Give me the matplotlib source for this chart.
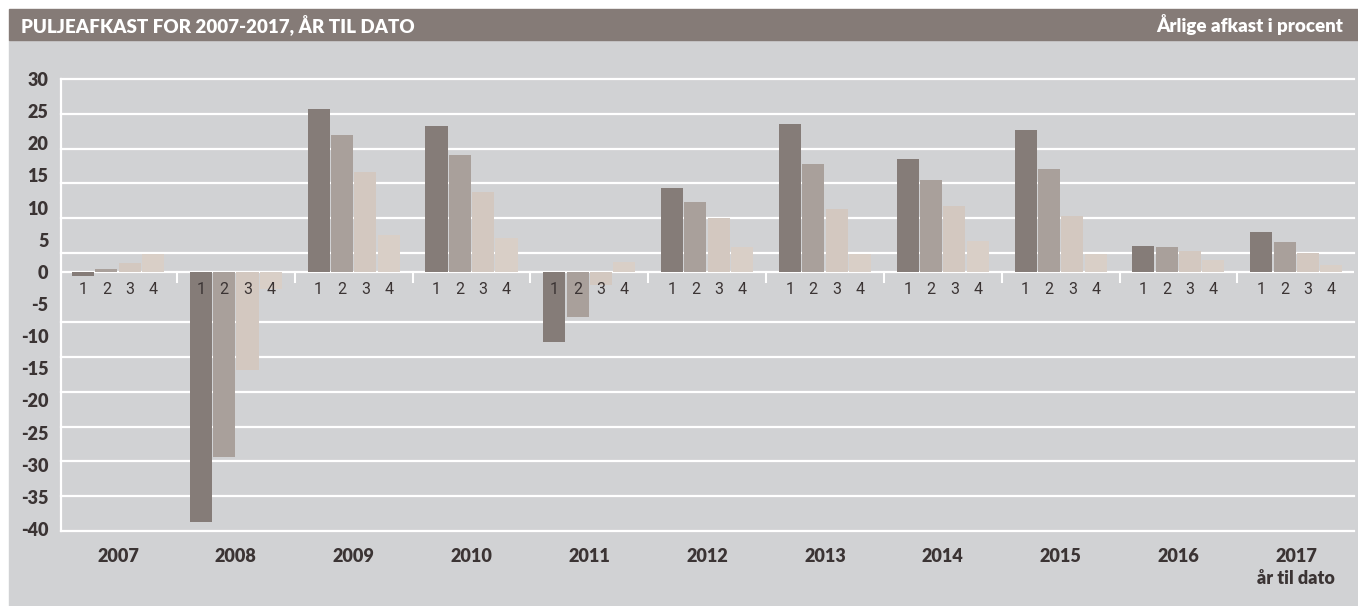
import numpy as np
import matplotlib
matplotlib.use("Agg")
import matplotlib.pyplot as plt
from matplotlib.patches import Rectangle

# afkast pr. pulje (1-4)
years = ["2007", "2008", "2009", "2010", "2011", "2012",
         "2013", "2014", "2015", "2016", "2017\når til dato"]
pulje_1 = [-0.6, -38.9, 25.3, 22.7, -10.9, 13.1, 23.0, 17.6, 22.1, 4.0, 6.2]
pulje_2 = [0.4, -28.8, 21.3, 18.2, -7.0, 10.9, 16.8, 14.3, 16.0, 3.9, 4.7]
pulje_3 = [1.4, -15.2, 15.5, 12.4, -2.0, 8.4, 9.8, 10.3, 8.7, 3.3, 3.0]
pulje_4 = [2.8, -2.6, 5.8, 5.3, 1.5, 3.9, 2.8, 4.8, 2.8, 1.9, 1.1]
pulje_names = ["1", "2", "3", "4"]

title = "PULJEAFKAST FOR 2007-2017, ÅR TIL DATO"
subtitle = "Årlige afkast i procent"

bg = "#d1d2d4"
head = "#857b77"
txt = "#3b3434"
colors = ["#857c78", "#a9a09b", "#d3c8c0", "#d9cfc7"]

W, H = 1358, 606
fig = plt.figure(figsize=(W / 100, H / 100), dpi=100)
fig.patch.set_facecolor("white")
fig.add_artist(Rectangle((9 / W, 0), 1 - 9 / W, (H - 40) / H,
                         transform=fig.transFigure, color=bg, zorder=0))
fig.add_artist(Rectangle((9 / W, (H - 40) / H), 1 - 9 / W, 31 / H,
                         transform=fig.transFigure, color=head, zorder=0))
fig.text(21 / W, 1 - 24.5 / H, title, color="white", fontsize=13.5,
         fontweight="heavy", family="Lato", va="center", ha="left")
fig.text(1343 / W, 1 - 24.5 / H, subtitle, color="white", fontsize=13.5,
         fontweight="heavy", family="Lato", va="center", ha="right")

ax = fig.add_axes([61 / W, (H - 531) / H, (1354 - 61) / W, (531 - 79) / H])
ax.set_facecolor("none")
y_bottom = -40.3
ax.set_ylim(y_bottom, 30)
ax.set_xlim(-0.484, 10.49)

# gitterlinjerne i originalen ligger ikke præcis på tallene
grid = np.linspace(30, y_bottom, 14)
grid = np.delete(grid, 6)
for g in grid:
    ax.axhline(g, color="white", lw=1.6, zorder=1, clip_on=False)
ax.axhline(0, color="white", lw=1.6, zorder=1)

x = np.arange(len(years))
pitch = 0.198
width = 0.187
series = [pulje_1, pulje_2, pulje_3, pulje_4]
for k, vals in enumerate(series):
    pos = x + (k - 1.5) * pitch
    ax.bar(pos, vals, width=width, color=colors[k], zorder=3)
    for p in pos:
        ax.annotate(pulje_names[k], (p, 0), xytext=(0, -7),
                    textcoords="offset points", ha="center", va="top",
                    fontsize=11.5, family="Roboto", color=txt, zorder=5)

for i in range(len(years) - 1):
    ax.plot([i + 0.5, i + 0.5], [0, -1.6], color="white", lw=1.5, zorder=2)

for s in ["top", "right", "bottom"]:
    ax.spines[s].set_visible(False)
ax.spines["left"].set_color("white")
ax.spines["left"].set_linewidth(1.6)

ax.set_yticks(np.arange(-40, 31, 5))
ax.set_yticklabels([str(v) for v in np.arange(-40, 31, 5)])
ax.set_xticks(x)
ax.set_xticklabels(years)
ax.tick_params(axis="y", length=0, pad=9, labelcolor=txt, labelsize=13)
ax.tick_params(axis="x", length=0, pad=12, labelcolor=txt, labelsize=13)
for lab in ax.get_yticklabels() + ax.get_xticklabels():
    lab.set_fontweight("heavy")
    lab.set_family("Lato")
for lab in ax.get_xticklabels():
    lab.set_linespacing(1.4)

fig.savefig("out.png", dpi=100)
